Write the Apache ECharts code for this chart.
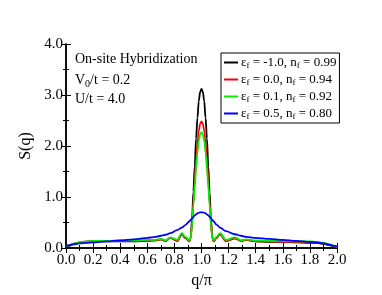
<!DOCTYPE html>
<html><head><meta charset="utf-8">
<script src="https://cdn.jsdelivr.net/npm/echarts@6/dist/echarts.min.js"></script>
<style>html,body{margin:0;padding:0;background:#fff}#c{width:382px;height:295px}</style>
</head><body><div id="c"></div>
<script>
var xs = [0, 0.02, 0.05, 0.1, 0.15, 0.2, 0.3, 0.4, 0.5, 0.6, 0.66, 0.7, 0.735, 0.77, 0.82, 0.855, 0.88, 0.91,
  0.92, 0.93, 0.94, 0.95, 0.96, 0.97, 0.98, 0.99, 1.0,
  1.01, 1.02, 1.03, 1.04, 1.05, 1.06, 1.07, 1.08, 1.09,
  1.11, 1.137, 1.18, 1.247, 1.29, 1.33,
  1.4, 1.5, 1.6, 1.7, 1.8, 1.85, 1.9, 1.95, 1.98, 2.0];
var sBlack = [0.02, 0.04, 0.07, 0.10, 0.12, 0.13, 0.13, 0.13, 0.13, 0.14, 0.15, 0.17, 0.14, 0.20, 0.14, 0.27, 0.20, 0.13,
  0.20, 0.55, 1.10, 1.60, 2.15, 2.55, 2.88, 3.06, 3.12,
  3.06, 2.88, 2.55, 2.15, 1.60, 1.10, 0.55, 0.20, 0.13,
  0.20, 0.27, 0.14, 0.19, 0.14, 0.16,
  0.13, 0.12, 0.12, 0.11, 0.10, 0.10, 0.08, 0.05, 0.03, 0.01];
var sRed = [0.03, 0.05, 0.08, 0.11, 0.13, 0.14, 0.14, 0.14, 0.14, 0.15, 0.15, 0.17, 0.14, 0.20, 0.14, 0.27, 0.20, 0.13,
  0.19, 0.46, 0.90, 1.30, 1.72, 2.04, 2.30, 2.44, 2.48,
  2.44, 2.30, 2.04, 1.72, 1.30, 0.90, 0.46, 0.19, 0.13,
  0.20, 0.27, 0.14, 0.19, 0.14, 0.16,
  0.13, 0.13, 0.12, 0.12, 0.11, 0.11, 0.09, 0.06, 0.03, 0.01];
var sGreen = [0.03, 0.05, 0.08, 0.11, 0.13, 0.14, 0.14, 0.15, 0.15, 0.16, 0.16, 0.18, 0.15, 0.21, 0.16, 0.29, 0.22, 0.15,
  0.20, 0.44, 0.84, 1.20, 1.58, 1.87, 2.10, 2.23, 2.27,
  2.23, 2.10, 1.87, 1.58, 1.20, 0.84, 0.44, 0.20, 0.15,
  0.22, 0.29, 0.16, 0.21, 0.15, 0.17,
  0.15, 0.14, 0.14, 0.13, 0.13, 0.12, 0.10, 0.07, 0.04, 0.02];
var sBlue = [0.04, 0.05, 0.07, 0.09, 0.10, 0.11, 0.13, 0.15, 0.17, 0.20, 0.22, 0.24, 0.26, 0.29, 0.35, 0.40, 0.45, 0.52,
  0.55, 0.58, 0.61, 0.64, 0.66, 0.68, 0.69, 0.70, 0.70,
  0.70, 0.69, 0.68, 0.66, 0.64, 0.61, 0.58, 0.55, 0.52,
  0.46, 0.40, 0.33, 0.27, 0.24, 0.22,
  0.20, 0.18, 0.16, 0.14, 0.12, 0.11, 0.09, 0.06, 0.04, 0.03];
var epsVals = ['-1.0', '0.0', '0.1', '0.5'];
var nfVals = ['0.99', '0.94', '0.92', '0.80'];
var colors = ['#000000', '#ff0000', '#00f000', '#0000ff'];
var seriesVals = [sBlack, sRed, sGreen, sBlue];
var xTicks = ['0.0','0.2','0.4','0.6','0.8','1.0','1.2','1.4','1.6','1.8','2.0'];
var yTicks = ['0.0','1.0','2.0','3.0','4.0'];

var FONT = 'Liberation Serif';
var chart = echarts.init(document.getElementById('c'), null, {renderer: 'canvas'});
var names = epsVals.map(function (e, i) { return 'e' + i; });
var series = seriesVals.map(function (vals, i) {
  return {
    name: names[i], type: 'line', xAxisIndex: 0, yAxisIndex: 0,
    data: xs.map(function (x, j) { return [x, vals[j]]; }),
    showSymbol: false, smooth: 0.35, smoothMonotone: 'x',
    lineStyle: {color: colors[i], width: 1.8}, itemStyle: {color: colors[i]}
  };
});
var axisCommon = {
  axisLine: {show: true, lineStyle: {color: '#000', width: 1.5}},
  axisTick: {show: true, inside: true, length: 5, lineStyle: {color: '#000', width: 1}},
  minorTick: {show: true, splitNumber: 2, length: 3, lineStyle: {color: '#000', width: 1}},
  splitLine: {show: false}
};
function ax(extra) { return Object.assign({}, JSON.parse(JSON.stringify(axisCommon)), extra); }

chart.setOption({
  animation: false,
  backgroundColor: '#fff',
  grid: {left: 66, right: 45, top: 44, bottom: 47, containLabel: false},
  xAxis: [
    ax({type: 'value', position: 'bottom', min: 0, max: 2, interval: 0.2,
      name: 'q/\u03c0', nameLocation: 'middle', nameGap: 20,
      nameTextStyle: {fontFamily: FONT, fontSize: 16, color: '#000'},
      axisLabel: {fontFamily: FONT, fontSize: 15, color: '#000', margin: 5,
        formatter: function (v) { return xTicks[Math.round(v / 0.2)]; }}}),
    ax({type: 'value', position: 'top', min: 0, max: 2, interval: 0.2, axisLabel: {show: false}})
  ],
  yAxis: [
    ax({type: 'value', position: 'left', min: 0, max: 4, interval: 1,
      name: 'S(q)', nameLocation: 'middle', nameGap: 31, nameRotate: 90,
      nameTextStyle: {fontFamily: FONT, fontSize: 16, color: '#000'},
      axisLabel: {fontFamily: FONT, fontSize: 15, color: '#000', margin: 3,
        formatter: function (v) { return yTicks[Math.round(v)]; }}}),
    ax({type: 'value', position: 'right', min: 0, max: 4, interval: 1, axisLabel: {show: false}})
  ],
  legend: {
    data: names, orient: 'vertical', left: 221, top: 53,
    width: 114, itemGap: 2, itemWidth: 14, itemHeight: 2, icon: 'rect',
    borderColor: '#000', borderWidth: 1, padding: [2, 3, 2, 3],
    backgroundColor: '#fff',
    textStyle: {fontFamily: FONT, fontSize: 13, color: '#000', padding: [0, 0, 0, -2],
      rich: {
        m: {fontFamily: FONT, fontSize: 13, color: '#000', lineHeight: 14},
        s: {fontFamily: FONT, fontSize: 9, color: '#000', padding: [6, 0, 0, 0], lineHeight: 14}
      }},
    formatter: function (n) {
      var i = names.indexOf(n);
      return '{m|\u03b5}{s|f}{m| = ' + epsVals[i] + ', n}{s|f}{m| = ' + nfVals[i] + '}';
    }
  },
  graphic: [
    {type: 'text', left: 75, top: 52, style: {text: 'On-site Hybridization', font: '14px "Liberation Serif"', fill: '#000'}},
    {type: 'text', left: 75, top: 72, style: {
      text: '{m|V}{s|0}{m|/t = 0.2}', fill: '#000',
      rich: {m: {font: '14px "Liberation Serif"', fill: '#000', lineHeight: 16},
             s: {font: '10px "Liberation Serif"', fill: '#000', padding: [7, 0, 0, 0], lineHeight: 16}}}},
    {type: 'text', left: 75, top: 92, style: {text: 'U/t = 4.0', font: '14px "Liberation Serif"', fill: '#000'}}
  ],
  series: series
});
</script></body></html>
